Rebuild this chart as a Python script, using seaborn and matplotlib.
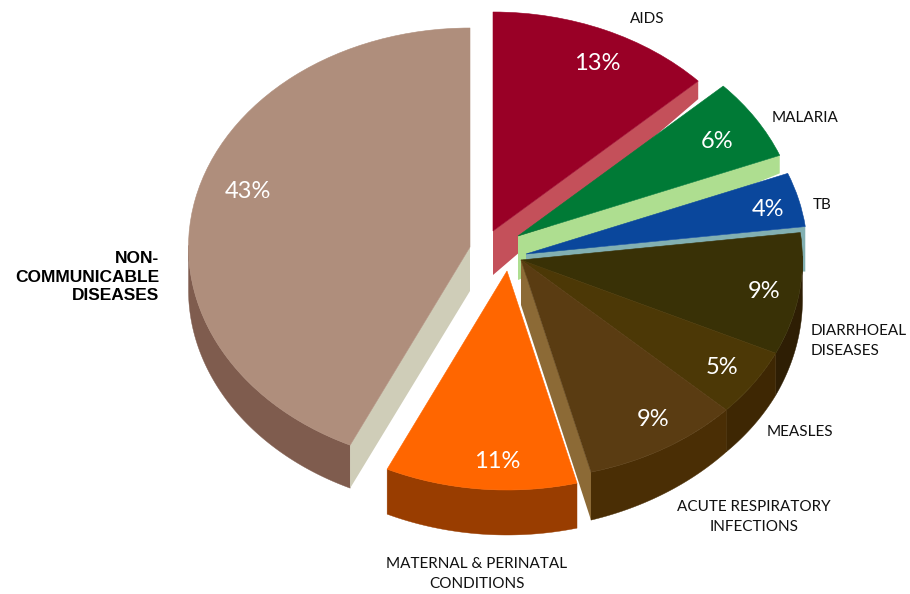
import numpy as np
import matplotlib
matplotlib.use('Agg')
import matplotlib.pyplot as plt
import seaborn as sns

causes = ['AIDS', 'MALARIA', 'TB', 'DIARRHOEAL\nDISEASES', 'MEASLES',
          'ACUTE RESPIRATORY\nINFECTIONS', 'MATERNAL & PERINATAL\nCONDITIONS',
          'NON-\nCOMMUNICABLE\nDISEASES']
shares = [13, 6, 4, 9, 5, 9, 11, 43]

top_colors = ['#990026', '#007A36', '#0A479C', '#393106', '#4C3806', '#5A3C12', '#FF6600', '#AF8E7C']
rim_colors = [None, None, None, '#2E1E04', '#3E2703', '#4A2E05', '#993D00', '#7F5C4E']
wall_colors = ['#C4505A', '#AEDE90', '#82B0B2', None, None, '#8C6A36', None, '#CFCDB8']

# pixel layout of the exploded slices
RX, RY = 281.5, 219.0
W, H = 910, 594
apex = [(493, 231), (518, 236), (526, 254), (521, 260), (521, 260), (521, 260), (507, 271), (470, 247)]
rim_depth = [None, None, None, (38, 42), (42, 42), (42, 48), (45, 45), (43, 43)]
wall_edge = [0, 0, 0, None, None, 0, None, 1]  # which side of the wedge shows a cut face
wall_depth = [(44, 18), (44, 18), (18, 45), None, None, (45, 48), None, (44, 43)]
pct_xy = [(597, 63), (717, 141), (768, 209), (764, 291), (722, 368), (653, 419), (497, 461), (248, 192)]
label_xy = [(647, 19), (805, 118), (822, 205), (811, 341), (800, 432), (754, 517), (477, 574), (159, 277)]
label_ha = ['center', 'center', 'center', 'left', 'center', 'center', 'center', 'right']


def to_data(x, y):
    return x / RX, (H - y) / RY


sns.set_theme(style='white')
plt.rcParams['font.family'] = ['Lato', 'DejaVu Sans']

fig = plt.figure(figsize=(W / 100, H / 100), dpi=100)
ax = fig.add_axes([0, 0, 1, 1])
wedges, _ = ax.pie(shares, colors=sns.color_palette(top_colors), startangle=90, counterclock=False,
                   wedgeprops={'linewidth': 0.4})
ax.set_aspect('auto')
ax.set_xlim(0, W / RX)
ax.set_ylim(0, H / RY)
ax.axis('off')

for i, wedge in enumerate(wedges):
    cx, cy = to_data(*apex[i])
    wedge.set_center((cx, cy))
    wedge.set_edgecolor(top_colors[i])
    wedge.set_zorder(3 * i + 3)

    # outer rim, only the front half can be seen
    if rim_colors[i]:
        t = np.radians(np.linspace(wedge.theta1, wedge.theta2, 160))
        d = np.linspace(rim_depth[i][1], rim_depth[i][0], 160) / RY
        keep = np.sin(t) <= 0.02
        xs = cx + np.cos(t[keep])
        ys = cy + np.sin(t[keep])
        ax.fill(np.r_[xs, xs[::-1]], np.r_[ys, (ys - d[keep])[::-1]], color=rim_colors[i], lw=0.3,
                zorder=3 * i + 1)

    # flat cut face
    if wall_colors[i]:
        ang = np.radians(wedge.theta2 if wall_edge[i] else wedge.theta1)
        ex, ey = cx + np.cos(ang), cy + np.sin(ang)
        near, far = wall_depth[i]
        ax.fill([cx, ex, ex, cx], [cy, ey, ey - far / RY, cy - near / RY],
                color=wall_colors[i], lw=0, zorder=3 * i + 2)

    px, py = to_data(*pct_xy[i])
    ax.text(px, py, f'{shares[i]}%', color='white', fontsize=17, ha='center', va='center', zorder=40)

    lx, ly = to_data(*label_xy[i])
    if i == len(causes) - 1:
        ax.text(lx, ly, causes[i], color='black', fontsize=12.5, fontweight='bold', family='Liberation Sans',
                ha=label_ha[i], va='center', multialignment='right', linespacing=1.32, zorder=40)
    else:
        ax.text(lx, ly, causes[i], color='#111111', fontsize=11, ha=label_ha[i], va='center',
                multialignment=label_ha[i], linespacing=1.6, zorder=40)

fig.savefig('out.png', dpi=100, facecolor='white')
